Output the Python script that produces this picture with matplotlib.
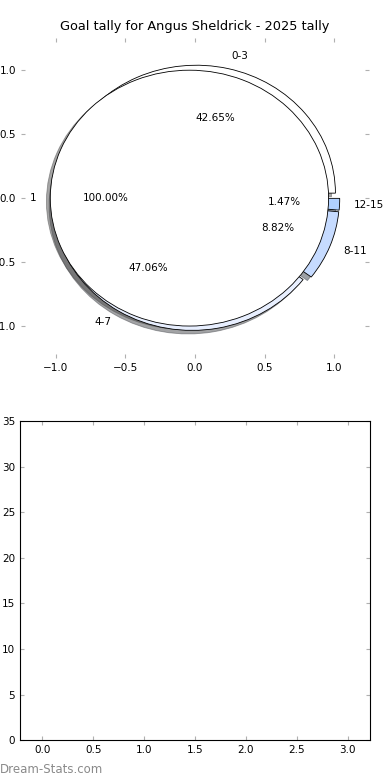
import matplotlib
matplotlib.use("Agg")
import matplotlib.pyplot as plt

# outer ring: goal ranges
ranges = ["0-3", "4-7", "8-11", "12-15"]
range_share = [42.65, 47.06, 8.82, 1.47]
range_colors = ["#ffffff", "#e8efff", "#c6dbff", "#b0d0ff"]

# inner circle: single group
groups = ["1"]
group_share = [100.0]
group_colors = ["#ffffff"]

# bottom panel (empty bar chart)
bar_x = [0, 1, 2, 3]
bar_vals = [0, 0, 0, 0]

title = "Goal tally for Angus Sheldrick - 2025 tally"

plt.rcParams["font.family"] = "DejaVu Sans"
plt.rcParams["font.size"] = 7.5

fig = plt.figure(figsize=(3.9, 7.8), dpi=100)

# top: pie
ax = fig.add_axes([0.054, 0.541, 0.892, 0.410])
ax.pie(range_share, labels=ranges, colors=range_colors, explode=[0.04] * 4,
       autopct="%.2f%%", shadow=True, frame=True,
       wedgeprops=dict(edgecolor="black", linewidth=0.6))
ax.pie(group_share, labels=groups, colors=group_colors, explode=[0.04],
       autopct="%.2f%%", shadow=True, frame=True,
       wedgeprops=dict(edgecolor="black", linewidth=0.6))
ax.set_aspect("auto")
ax.set_xlim(-1.25, 1.25)
ax.set_ylim(-1.25, 1.25)
ax.set_xticks([-1.0, -0.5, 0.0, 0.5, 1.0])
ax.set_yticks([-1.0, -0.5, 0.0, 0.5, 1.0])
for s in ax.spines.values():
    s.set_visible(False)
ax.tick_params(direction="in", top=True, right=True, color="#b0b0b0",
               length=3, labelsize=7.5)
ax.set_title(title, fontsize=9.3)

# bottom: empty bars
ax2 = fig.add_axes([0.051, 0.051, 0.898, 0.409])
ax2.bar(bar_x, bar_vals, width=0.4)
ax2.set_xlim(-0.22, 3.22)
ax2.set_ylim(0, 35)
ax2.tick_params(direction="in", top=True, right=True, color="#b0b0b0",
                length=3, labelsize=7.5)

fig.text(0.0, 0.005, "Dream-Stats.com", color="#8a8a8a", fontsize=8.5,
         ha="left", va="bottom")

fig.savefig("out.png", dpi=100)
